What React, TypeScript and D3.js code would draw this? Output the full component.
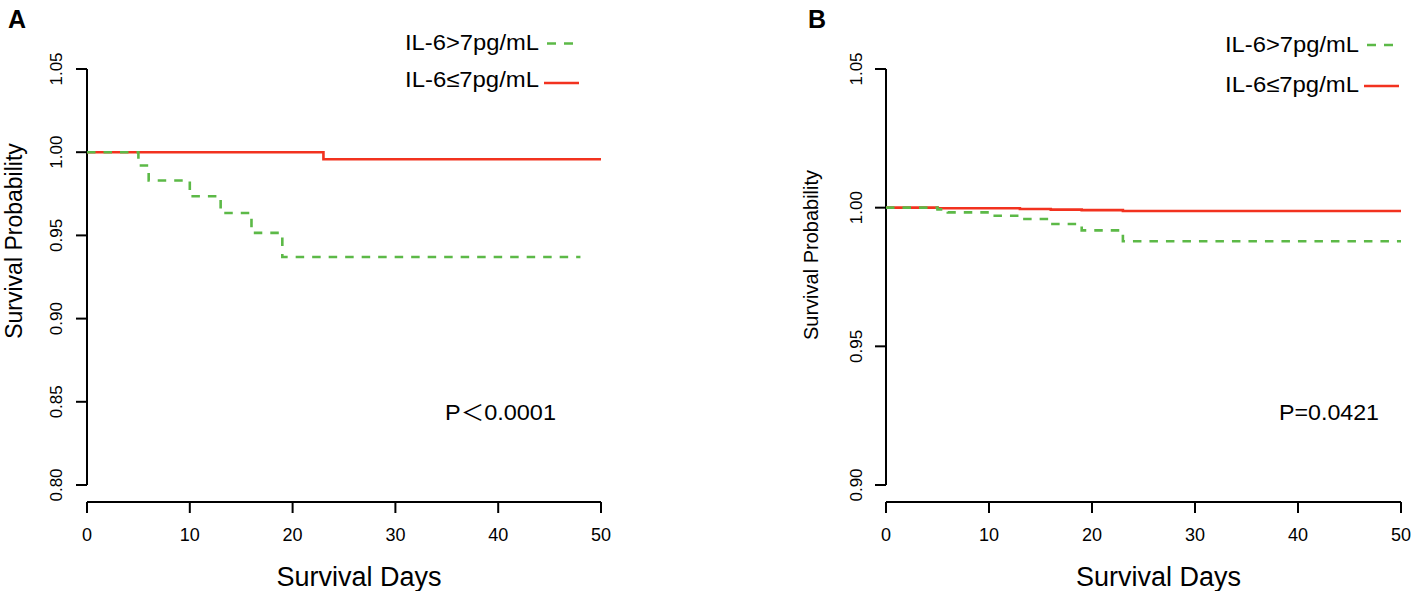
import React from "react";
import * as d3 from "d3";

// ---------- data ----------
const xTicks = [0, 10, 20, 30, 40, 50];
const yTicksA = [0.8, 0.85, 0.9, 0.95, 1.0, 1.05];
const yTicksB = [0.9, 0.95, 1.0, 1.05];

const aHighTimes = [0, 5, 6, 10, 13, 16, 19, 48];
const aHighSurv = [1, 0.992, 0.983, 0.9735, 0.9635, 0.9515, 0.937, 0.937];
const aLowTimes = [0, 23, 50];
const aLowSurv = [1, 0.9958, 0.9958];

const bHighTimes = [0, 5, 6, 10, 13, 16, 19, 23, 50];
const bHighSurv = [1, 0.9994, 0.9983, 0.9971, 0.9959, 0.9941, 0.9918, 0.9879, 0.9879];
const bLowTimes = [0, 5, 13, 16, 19, 23, 50];
const bLowSurv = [1, 0.9998, 0.9995, 0.9993, 0.9991, 0.9988, 0.9988];

const legendHigh = "IL-6>7pg/mL";
const legendLow = "IL-6≤7pg/mL";
const pA = "P＜0.0001";
const pB = "P=0.0421";

const GREEN = "#5cb947";
const RED = "#f2321f";
const FONT = "'Liberation Sans', Arial, 'Noto Sans CJK SC', sans-serif";

type Panel = {
  letter: string;
  letterX: number;
  xRange: [number, number];
  yDomain: [number, number];
  yTicks: number[];
  high: { t: number[]; s: number[] };
  low: { t: number[]; s: number[] };
  legendX: number;
  legendBase: [number, number];
  greenLine: [number, number, number];
  redLine: [number, number, number];
  pText: string;
  pX: number;
  pLen: number;
  yLabelX: number;
  yLabelY: number;
  yLabelSize: number;
  yTickLabelX: number;
};

const panels: Panel[] = [
  {
    letter: "A",
    letterX: 8,
    xRange: [87, 601],
    yDomain: [0.8, 1.05],
    yTicks: yTicksA,
    high: { t: aHighTimes, s: aHighSurv },
    low: { t: aLowTimes, s: aLowSurv },
    legendX: 405,
    legendBase: [49.5, 87],
    greenLine: [547, 574, 43.5],
    redLine: [544, 579, 83],
    pText: pA,
    pX: 445,
    pLen: 111,
    yLabelX: 22,
    yLabelY: 241,
    yLabelSize: 23,
    yTickLabelX: 62,
  },
  {
    letter: "B",
    letterX: 808,
    xRange: [886, 1401],
    yDomain: [0.9, 1.05],
    yTicks: yTicksB,
    high: { t: bHighTimes, s: bHighSurv },
    low: { t: bLowTimes, s: bLowSurv },
    legendX: 1225,
    legendBase: [52, 92],
    greenLine: [1367, 1394, 45],
    redLine: [1364, 1399, 86],
    pText: pB,
    pX: 1279,
    pLen: 100,
    yLabelX: 818,
    yLabelY: 255,
    yLabelSize: 20,
    yTickLabelX: 862,
  },
];

const Y_TOP = 69;
const Y_BOTTOM = 485;
const X_AXIS_Y = 502;

function PanelView({ p }: { p: Panel }) {
  const x = d3.scaleLinear().domain([0, 50]).range(p.xRange);
  const y = d3.scaleLinear().domain(p.yDomain).range([Y_BOTTOM, Y_TOP]);
  const line = d3
    .line<[number, number]>()
    .x((d) => x(d[0]))
    .y((d) => y(d[1]))
    .curve(d3.curveStepAfter);
  const hi = line(p.high.t.map((t, i) => [t, p.high.s[i]] as [number, number])) || "";
  const lo = line(p.low.t.map((t, i) => [t, p.low.s[i]] as [number, number])) || "";
  const x0 = x(0);
  const midX = (p.xRange[0] + p.xRange[1]) / 2;
  return (
    <g>
      <text x={p.letterX} y={28} fontSize={25} fontWeight="bold" fill="#000">
        {p.letter}
      </text>
      {/* y axis */}
      <line x1={x0} x2={x0} y1={y(p.yDomain[1])} y2={y(p.yDomain[0])} stroke="#000" strokeWidth={2} />
      {p.yTicks.map((t) => (
        <g key={t}>
          <line x1={x0 - 11} x2={x0} y1={y(t)} y2={y(t)} stroke="#000" strokeWidth={2} />
          <text
            transform={`translate(${p.yTickLabelX},${y(t)}) rotate(-90)`}
            textAnchor="middle"
            fontSize={17}
            fill="#000"
          >
            {d3.format(".2f")(t)}
          </text>
        </g>
      ))}
      {/* x axis */}
      <line x1={x(0)} x2={x(50)} y1={X_AXIS_Y} y2={X_AXIS_Y} stroke="#000" strokeWidth={2} />
      {xTicks.map((t) => (
        <g key={t}>
          <line x1={x(t)} x2={x(t)} y1={X_AXIS_Y} y2={X_AXIS_Y + 11} stroke="#000" strokeWidth={2} />
          <text x={x(t)} y={541} textAnchor="middle" fontSize={18} fill="#000">
            {t}
          </text>
        </g>
      ))}
      <text x={midX + 15} y={586} textAnchor="middle" fontSize={27} fill="#000">
        Survival Days
      </text>
      <text
        transform={`translate(${p.yLabelX},${p.yLabelY}) rotate(-90)`}
        textAnchor="middle"
        fontSize={p.yLabelSize}
        fill="#000"
      >
        Survival Probability
      </text>
      {/* curves */}
      <path d={lo} fill="none" stroke={RED} strokeWidth={2.6} />
      <path d={hi} fill="none" stroke={GREEN} strokeWidth={2.6} strokeDasharray="8.5 8" />
      {/* legend */}
      <text x={p.legendX} y={p.legendBase[0]} fontSize={22} textLength={134} lengthAdjust="spacingAndGlyphs" fill="#000">
        {legendHigh}
      </text>
      <text x={p.legendX} y={p.legendBase[1]} fontSize={22} textLength={134} lengthAdjust="spacingAndGlyphs" fill="#000">
        {legendLow}
      </text>
      <line
        x1={p.greenLine[0]}
        x2={p.greenLine[1]}
        y1={p.greenLine[2]}
        y2={p.greenLine[2]}
        stroke={GREEN}
        strokeWidth={2.6}
        strokeDasharray="9 8"
      />
      <line x1={p.redLine[0]} x2={p.redLine[1]} y1={p.redLine[2]} y2={p.redLine[2]} stroke={RED} strokeWidth={2.6} />
      <text x={p.pX} y={419.5} fontSize={22} textLength={p.pLen} lengthAdjust="spacingAndGlyphs" fill="#000">
        {p.pText}
      </text>
    </g>
  );
}

export default function App() {
  return (
    <svg
      width={1411}
      height={591}
      viewBox="0 0 1411 591"
      style={{ position: "absolute", left: 0, top: 0, background: "#fff", fontFamily: FONT }}
    >
      <rect width={1411} height={591} fill="#fff" />
      {panels.map((p) => (
        <PanelView key={p.letter} p={p} />
      ))}
    </svg>
  );
}
